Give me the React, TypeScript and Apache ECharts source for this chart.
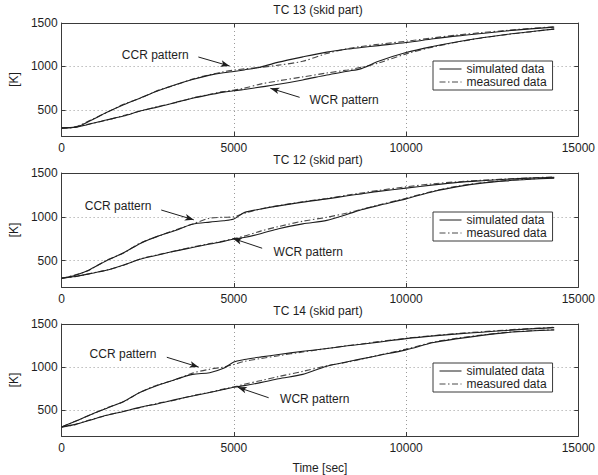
import { useEffect, useRef } from 'react';
import * as echarts from 'echarts';

// time axis [sec]
const times = [0, 400, 800, 1300, 1800, 2300, 2800, 3300, 3800, 4300, 4700, 5000, 5300, 5800, 6300, 7000, 7700, 8300, 8700, 9200, 10000, 10800, 11500, 12200, 12900, 13600, 14300];

// TC 13
const ccrSim13 = [295, 302, 370, 470, 560, 640, 720, 790, 850, 900, 928, 942, 960, 995, 1050, 1110, 1165, 1200, 1218, 1240, 1275, 1318, 1352, 1380, 1408, 1432, 1452];
const ccrMeas13 = [293, 305, 375, 468, 565, 636, 725, 786, 855, 905, 940, 958, 972, 990, 1015, 1060, 1150, 1205, 1230, 1255, 1290, 1330, 1362, 1390, 1414, 1437, 1457];
const wcrSim13 = [290, 300, 335, 385, 430, 490, 535, 585, 635, 675, 705, 720, 735, 765, 795, 845, 902, 945, 975, 1060, 1160, 1232, 1285, 1330, 1368, 1400, 1430];
const wcrMeas13 = [288, 302, 338, 382, 435, 488, 540, 582, 638, 680, 712, 728, 750, 800, 835, 880, 925, 960, 990, 1040, 1145, 1225, 1282, 1328, 1366, 1398, 1432];

// TC 12
const ccrSim12 = [300, 335, 395, 500, 590, 700, 780, 845, 915, 940, 955, 975, 1048, 1090, 1125, 1168, 1205, 1240, 1262, 1290, 1328, 1365, 1393, 1412, 1428, 1442, 1452];
const ccrMeas12 = [298, 338, 392, 505, 588, 705, 778, 850, 918, 985, 995, 1000, 1040, 1092, 1128, 1172, 1210, 1248, 1272, 1302, 1342, 1378, 1400, 1418, 1432, 1445, 1455];
const wcrSim12 = [300, 320, 350, 390, 450, 520, 565, 610, 650, 690, 720, 748, 765, 810, 865, 920, 960, 1030, 1080, 1130, 1205, 1290, 1345, 1385, 1410, 1428, 1442];
const wcrMeas12 = [302, 318, 352, 392, 448, 522, 568, 612, 655, 695, 725, 752, 780, 840, 890, 950, 995, 1045, 1085, 1135, 1212, 1295, 1350, 1390, 1414, 1432, 1446];

// TC 14
const ccrSim14 = [305, 370, 440, 520, 600, 710, 790, 855, 915, 935, 985, 1060, 1087, 1118, 1146, 1183, 1215, 1247, 1265, 1290, 1330, 1362, 1385, 1405, 1425, 1443, 1458];
const ccrMeas14 = [303, 372, 438, 525, 598, 712, 795, 852, 930, 975, 1000, 1030, 1065, 1100, 1132, 1175, 1215, 1250, 1268, 1295, 1335, 1366, 1390, 1410, 1430, 1447, 1461];
const wcrSim14 = [305, 335, 380, 440, 485, 535, 575, 622, 665, 705, 740, 765, 785, 822, 865, 915, 1010, 1062, 1095, 1135, 1200, 1285, 1330, 1368, 1400, 1418, 1430];
const wcrMeas14 = [303, 332, 385, 438, 488, 532, 580, 618, 668, 708, 745, 770, 800, 845, 890, 950, 1015, 1058, 1092, 1138, 1208, 1290, 1336, 1372, 1403, 1422, 1434];

const titles = ['TC 13 (skid part)', 'TC 12 (skid part)', 'TC 14 (skid part)'];
const panels = [
  { ccrSim: ccrSim13, ccrMeas: ccrMeas13, wcrSim: wcrSim13, wcrMeas: wcrMeas13 },
  { ccrSim: ccrSim12, ccrMeas: ccrMeas12, wcrSim: wcrSim12, wcrMeas: wcrMeas12 },
  { ccrSim: ccrSim14, ccrMeas: ccrMeas14, wcrSim: wcrSim14, wcrMeas: wcrMeas14 },
];

// annotation anchors in data coordinates [time, K]
const ccrLabelAt = [[3686, 1131], [2609, 1126], [2750, 1152]];
const ccrArrowFrom = [[3970, 1109], [2892, 1078], [3054, 1114]];
const ccrArrowTo = [[4877, 1005], [3837, 966], [3978, 1000]];
const wcrLabelAt = [[7194, 614], [6153, 604], [6343, 625]];
const wcrArrowFrom = [[6910, 645], [5822, 642], [6011, 644]];
const wcrArrowTo = [[6060, 749], [4971, 754], [5113, 766]];

const FONT = 'Liberation Sans, Arial, Helvetica, sans-serif';
const INK = '#1e1e1e';
const AXIS = '#3a3a3a';
const gridTops = [23, 173, 324];
const gridHeights = [113, 114, 113];
const legendTops = [61, 212, 363];

const pair = (vals: number[]) => times.map((t, i) => [t, vals[i]]);

export default function App() {
  const ref = useRef<HTMLDivElement>(null);
  useEffect(() => {
    const chart = echarts.init(ref.current!, null, { renderer: 'svg' });
    const grid: any[] = [];
    const xAxis: any[] = [];
    const yAxis: any[] = [];
    const series: any[] = [];
    const legend: any[] = [];
    const title: any[] = [];

    panels.forEach((p, i) => {
      grid.push({ left: 53, width: 529, top: gridTops[i], height: gridHeights[i], containLabel: false });
      const tick = { show: true, inside: true, length: 4, lineStyle: { color: AXIS } };
      xAxis.push({
        gridIndex: i, type: 'value', min: 0, max: 15000, interval: 5000, position: 'bottom',
        axisLine: { show: true, onZero: false, lineStyle: { color: AXIS, width: 1 } },
        axisTick: tick,
        axisLabel: { color: INK, fontSize: 12, fontFamily: FONT, margin: 6, formatter: (v: number) => String(v) },
        splitLine: { show: true, lineStyle: { color: '#9a9a9a', type: [1, 3], width: 1 } },
        name: i === 2 ? 'Time [sec]' : '',
        nameLocation: 'middle', nameGap: 26,
        nameTextStyle: { color: INK, fontSize: 12, fontFamily: FONT },
      });
      xAxis.push({
        gridIndex: i, type: 'value', min: 0, max: 15000, interval: 5000, position: 'top',
        axisLine: { show: true, onZero: false, lineStyle: { color: AXIS, width: 1 } },
        axisTick: tick, axisLabel: { show: false }, splitLine: { show: false },
      });
      yAxis.push({
        gridIndex: i, type: 'value', min: 200, max: 1500, minInterval: 500, maxInterval: 500, position: 'left',
        axisLine: { show: true, onZero: false, lineStyle: { color: AXIS, width: 1 } },
        axisTick: tick,
        axisLabel: {
          color: INK, fontSize: 12, fontFamily: FONT, margin: 4,
          formatter: (v: number) => (v === 200 ? '' : String(v)),
        },
        splitLine: { show: true, lineStyle: { color: '#9a9a9a', type: [1, 3], width: 1 } },
        name: '[K]', nameLocation: 'middle', nameGap: 37, nameRotate: 90,
        nameTextStyle: { color: INK, fontSize: 12, fontFamily: FONT },
      });
      yAxis.push({
        gridIndex: i, type: 'value', min: 200, max: 1500, minInterval: 500, maxInterval: 500, position: 'right',
        axisLine: { show: true, onZero: false, lineStyle: { color: AXIS, width: 1 } },
        axisTick: tick, axisLabel: { show: false }, splitLine: { show: false },
      });

      const base = {
        type: 'line', xAxisIndex: 2 * i, yAxisIndex: 2 * i, symbol: 'none', showSymbol: false,
        silent: true, animation: false, smooth: 0.3,
      };
      const solid = { color: INK, width: 1.1, type: 'solid' };
      const dashdot = { color: '#4a4a4a', width: 1.1, type: [6, 2.5, 1.5, 2.5] };
      const mk = (from: number[], to: number[]) => [{ coord: from, symbol: 'none' }, { coord: to, symbol: 'arrow' }];
      series.push({
        ...base, name: 'simulated data', data: pair(p.ccrSim), lineStyle: solid, itemStyle: { color: INK }, z: 3,
        markLine: {
          silent: true, symbolSize: [5, 9], label: { show: false },
          lineStyle: { color: INK, width: 1, type: 'solid' },
          emphasis: { disabled: true },
          data: [mk(ccrArrowFrom[i], ccrArrowTo[i]), mk(wcrArrowFrom[i], wcrArrowTo[i])],
        },
        markPoint: {
          silent: true, symbol: 'circle', symbolSize: 0,
          data: [
            { coord: ccrLabelAt[i], label: { show: true, position: 'left', distance: 0, formatter: 'CCR pattern', color: INK, fontSize: 12, fontFamily: FONT } },
            { coord: wcrLabelAt[i], label: { show: true, position: 'right', distance: 0, formatter: 'WCR pattern', color: INK, fontSize: 12, fontFamily: FONT } },
          ],
        },
      });
      series.push({ ...base, name: 'measured data', data: pair(p.ccrMeas), lineStyle: dashdot, itemStyle: { color: '#4a4a4a' }, z: 2 });
      series.push({ ...base, name: 'simulated data', data: pair(p.wcrSim), lineStyle: solid, itemStyle: { color: INK }, z: 3 });
      series.push({ ...base, name: 'measured data', data: pair(p.wcrMeas), lineStyle: dashdot, itemStyle: { color: '#4a4a4a' }, z: 2 });

      legend.push({
        data: ['simulated data', 'measured data'], orient: 'vertical', left: 433, top: legendTops[i],
        itemWidth: 22, itemHeight: 12, itemGap: 1, padding: [2, 6, 2, 6],
        borderColor: AXIS, borderWidth: 1, borderRadius: 0, backgroundColor: '#fff',
        selectedMode: false, itemStyle: { opacity: 0 }, lineStyle: { width: 1 },
        textStyle: { color: INK, fontSize: 12, fontFamily: FONT },
        z: 10,
      });
      title.push({
        text: titles[i], left: 318, top: gridTops[i] - 19, padding: 0,
        textAlign: 'center', textVerticalAlign: 'top',
        textStyle: { color: INK, fontSize: 12, fontWeight: 'normal', fontFamily: FONT },
      });
    });

    chart.setOption({
      animation: false,
      backgroundColor: '#fff',
      textStyle: { fontFamily: FONT },
      title, grid, xAxis, yAxis, series, legend,
    });
    return () => chart.dispose();
  }, []);
  return <div ref={ref} style={{ position: 'fixed', left: 0, top: 0, width: 598, height: 475 }} />;
}
